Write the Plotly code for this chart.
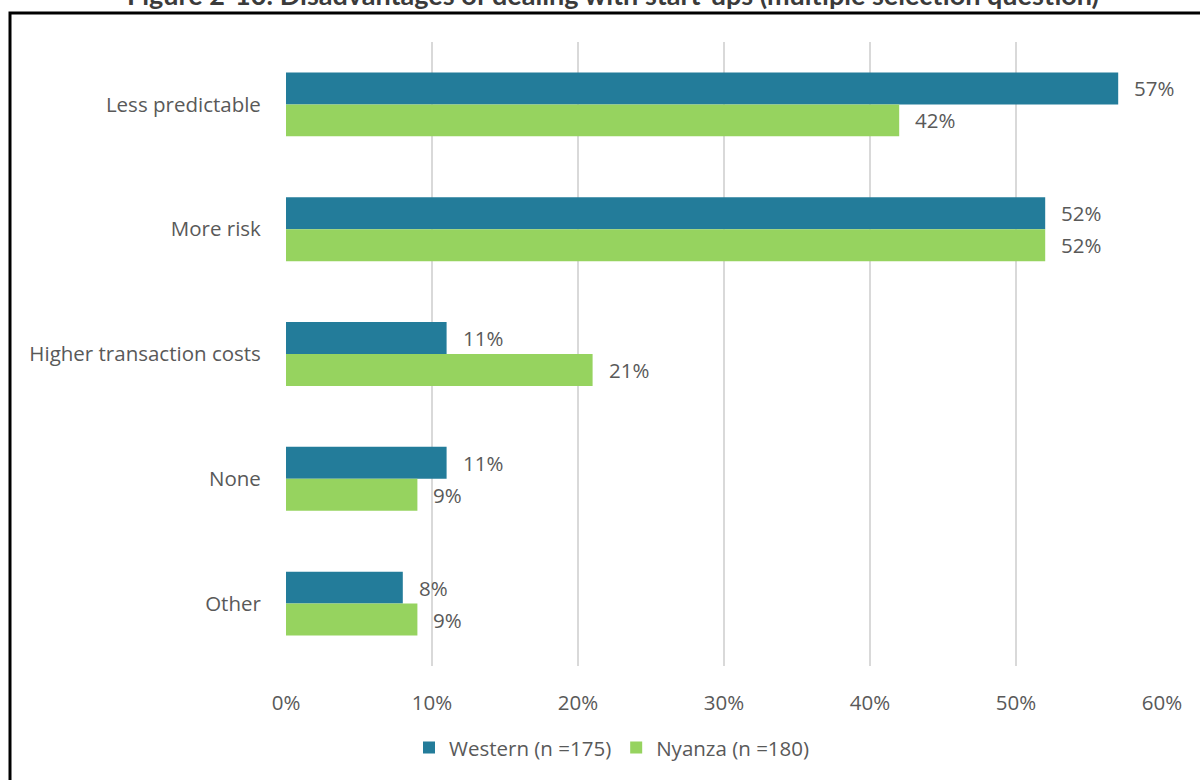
import plotly.graph_objects as go

categories = ["Less predictable", "More risk", "Higher transaction costs", "None", "Other"]
western = [57, 52, 11, 11, 8]
nyanza = [42, 52, 21, 9, 9]
series_names = ["Western (n =175)", "Nyanza (n =180)"]
x_ticks = [0, 10, 20, 30, 40, 50, 60]
title_text = "Figure 2-10: Disadvantages of dealing with start-ups (multiple selection question)"

W, H = 1200, 780
L, R, T, B = 286, 38, 42, 112
pw, ph = W - L - R, H - T - B

colors = ["#237C9A", "#96D35F"]
font_main = "Open Sans, Liberation Sans, sans-serif"
grey = "#595959"
fs = 20.5


def px_x(p):
    return (p - L) / pw


def px_y(p):
    return 1 - (p - T) / ph


fig = go.Figure()
for name, vals, col in zip(series_names, [western, nyanza], colors):
    fig.add_trace(go.Bar(
        y=categories, x=vals, name=name, orientation="h",
        marker=dict(color=col, line=dict(width=0)),
    ))

# value labels right of each bar
annotations = []
for i, vals in enumerate([western, nyanza]):
    for cat, v in zip(categories, vals):
        annotations.append(dict(
            x=v, y=cat, xref="x", yref="y", text=f"{v}%", showarrow=False,
            xanchor="left", xshift=14, yshift=(16 if i == 0 else -16),
            font=dict(family=font_main, size=fs, color=grey),
        ))

annotations.append(dict(
    x=px_x(613), y=px_y(-6), xref="paper", yref="paper", text=f"<b>{title_text}</b>",
    showarrow=False, xanchor="center", yanchor="middle",
    font=dict(family="Lato, sans-serif", size=27, color="#3b3b3b"),
))

fig.update_layout(
    width=W, height=H,
    margin=dict(l=L, r=R, t=T, b=B),
    paper_bgcolor="white", plot_bgcolor="white",
    barmode="group", bargap=0.488, bargroupgap=0,
    annotations=annotations,
    shapes=[dict(
        type="rect", xref="paper", yref="paper",
        x0=px_x(10), x1=px_x(1210), y0=px_y(13), y1=px_y(790),
        line=dict(color="black", width=3), fillcolor="rgba(0,0,0,0)", layer="below",
    )],
    legend=dict(
        orientation="h", x=px_x(612), xanchor="center",
        y=px_y(750), yanchor="middle",
        font=dict(family=font_main, size=fs, color=grey),
        itemwidth=30, tracegroupgap=0,
    ),
    xaxis=dict(
        range=[0, 60], tickvals=x_ticks, ticktext=[f"{t}%" for t in x_ticks],
        showgrid=True, gridcolor="#d9d9d9", gridwidth=2, zeroline=False,
        showline=False, ticks="outside", ticklen=18, tickcolor="rgba(0,0,0,0)",
        tickfont=dict(family=font_main, size=fs, color=grey),
    ),
    yaxis=dict(
        autorange="reversed", showgrid=False, zeroline=False, showline=False,
        ticks="outside", ticklen=20, tickcolor="rgba(0,0,0,0)",
        tickfont=dict(family=font_main, size=fs, color=grey),
    ),
)

fig.write_html("out.html")
